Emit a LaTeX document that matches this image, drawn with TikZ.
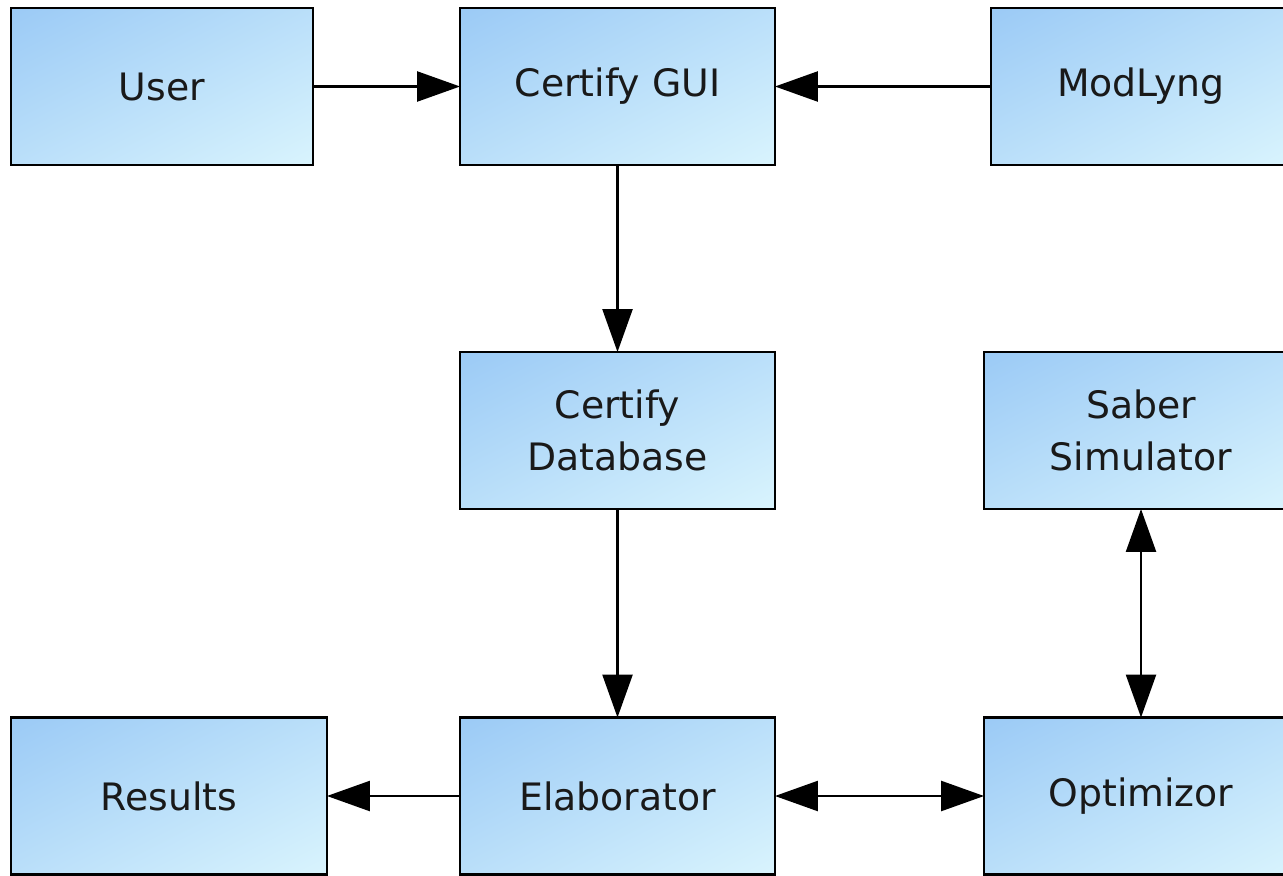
\documentclass[tikz,border=0pt]{standalone}
\usepackage{fontspec}
\setmainfont{DejaVu Sans}
\usetikzlibrary{arrows.meta}
\definecolor{boxdark}{RGB}{140,192,244}
\definecolor{boxlight}{RGB}{232,254,255}
\pgfdeclareverticalshading{boxdiag}{100bp}{color(0bp)=(boxlight); color(100bp)=(boxdark)}
\tikzset{
  box/.style={draw=black, line width=0.05cm, rectangle, inner sep=0pt, outer sep=0pt,
    minimum height=3.14cm, align=center,
    shading=boxdiag, shading angle=27,
    font=\fontsize{21.5}{29.5}\selectfont, text=black!90},
  conn/.style={line width=0.05cm, -{Triangle[length=0.86cm,width=0.6cm]}},
  conn2/.style={line width=0.05cm, {Triangle[length=0.86cm,width=0.6cm]}-{Triangle[length=0.86cm,width=0.6cm]}}
}
\begin{document}
\begin{tikzpicture}[x=0.02cm,y=-0.02cm]
\useasboundingbox (0,0) rectangle (1283,875);
\clip (0,0) rectangle (1283,875);
\node[box, minimum width=6.04cm] (user) at (162,86.5) {User};
\node[box, minimum width=6.30cm] (gui) at (617.5,86.5) {Certify GUI};
\node[box, minimum width=6.00cm] (mod) at (1141,86.5) {ModLyng};
\node[box, minimum width=6.30cm] (db) at (617.5,430.5) {Certify\\Database};
\node[box, minimum width=6.28cm] (saber) at (1141,430.5) {Saber\\Simulator};
\node[box, minimum width=6.32cm] (res) at (169,796) {Results};
\node[box, minimum width=6.30cm] (elab) at (617.5,796) {Elaborator};
\node[box, minimum width=6.28cm] (opt) at (1141,796) {Optimizor};
\draw[conn] (user) -- (gui);
\draw[conn] (mod) -- (gui);
\draw[conn] (gui) -- (db);
\draw[conn] (db) -- (elab);
\draw[conn] (elab) -- (res);
\draw[conn2] (elab) -- (opt);
\draw[conn2] (saber) -- (opt);
\end{tikzpicture}
\end{document}
